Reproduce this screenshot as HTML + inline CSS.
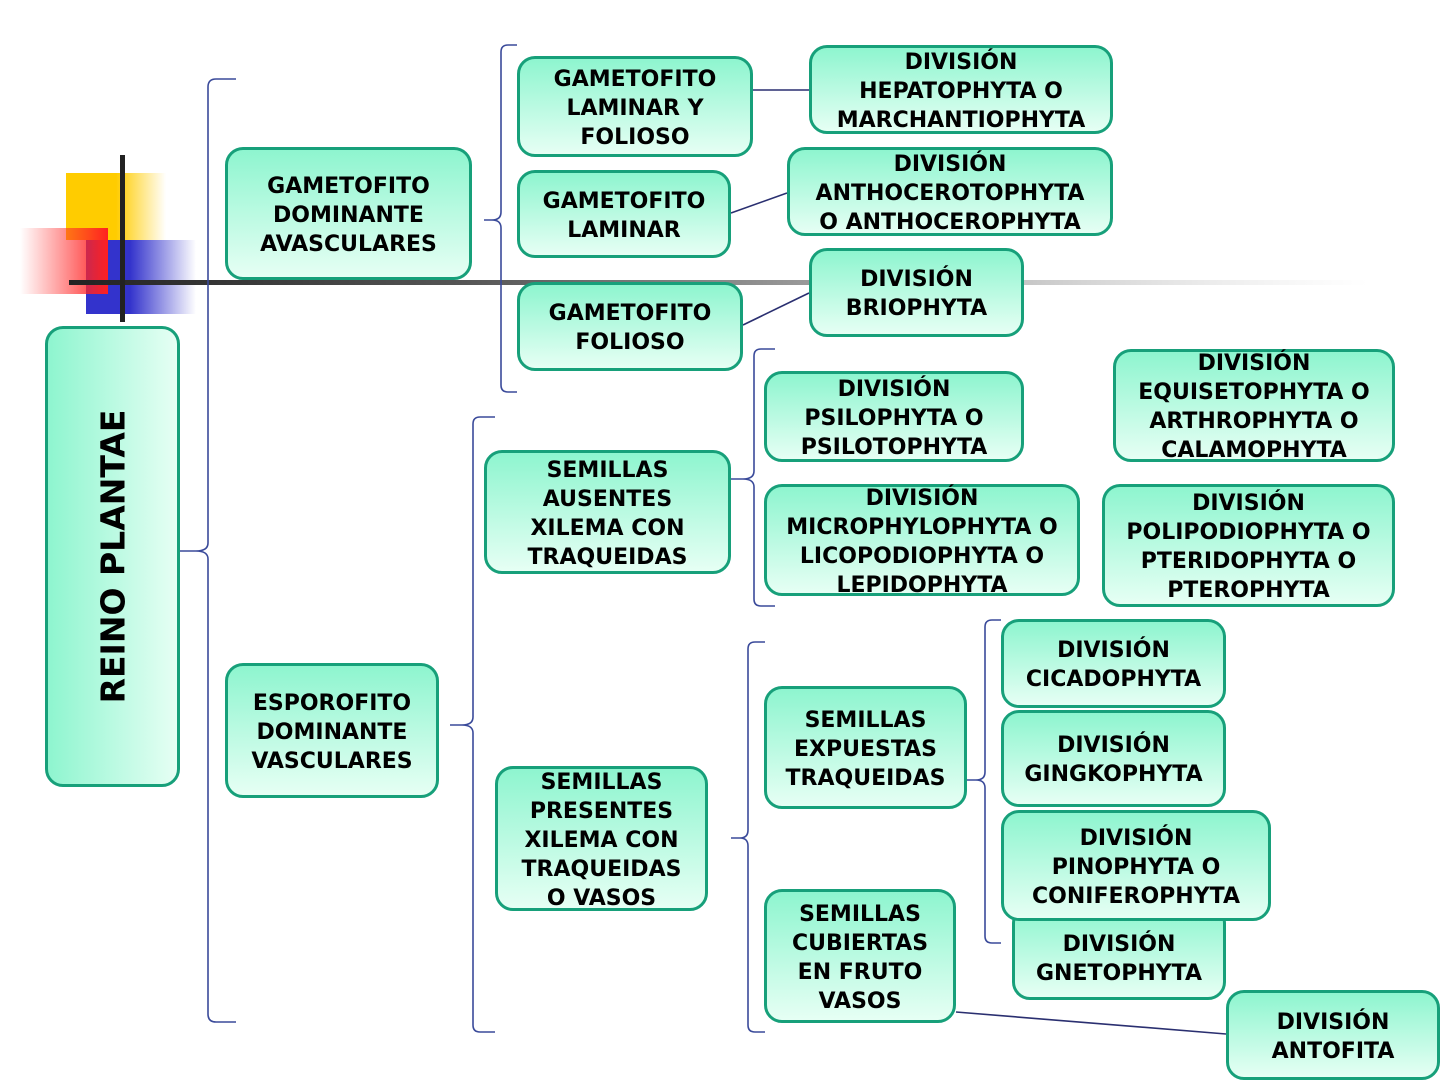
<!DOCTYPE html>
<html><head><meta charset="utf-8"><style>
html,body{margin:0;padding:0;background:#fff;}
body{width:1440px;height:1080px;position:relative;overflow:hidden;font-family:"DejaVu Sans","Liberation Sans",sans-serif;}
.b{position:absolute;box-sizing:border-box;border:3.5px solid #17a07a;border-radius:18px;background:linear-gradient(to bottom,#8ef5cf,#e6fff4);display:flex;align-items:center;justify-content:center;text-align:center;font-weight:bold;font-size:22px;line-height:29px;color:#000;white-space:nowrap;padding-top:3px;}
svg{position:absolute;left:0;top:0;}
</style></head><body>
<svg width="1440" height="1080">
<defs>
<linearGradient id="y" x1="0" x2="1"><stop offset="0.5" stop-color="#ffcc00"/><stop offset="1" stop-color="#ffcc00" stop-opacity="0"/></linearGradient>
<linearGradient id="r" x1="0" x2="1"><stop offset="0" stop-color="#ff3030" stop-opacity="0"/><stop offset="1" stop-color="#ff2020"/></linearGradient>
<linearGradient id="bl" x1="0" x2="1"><stop offset="0.4" stop-color="#3333cc"/><stop offset="1" stop-color="#3333cc" stop-opacity="0"/></linearGradient>
<linearGradient id="h" x1="0" x2="1"><stop offset="0" stop-color="#222"/><stop offset="0.3" stop-color="#555"/><stop offset="0.7" stop-color="#bbb"/><stop offset="1" stop-color="#ddd" stop-opacity="0"/></linearGradient>
</defs>
<rect x="66" y="173" width="100" height="67" fill="url(#y)"/>
<rect x="86" y="240" width="110" height="74" fill="url(#bl)"/>
<rect x="20" y="228" width="88" height="66" fill="url(#r)"/>
<rect x="69" y="280" width="1300" height="5" fill="url(#h)"/>
<rect x="120" y="155" width="5" height="167" fill="#222"/>
<g fill="none" stroke="#3a4a9a" stroke-width="1.6">
<path d="M236,79 H216 Q208,79 208,87 V543 Q208,551 196,551 H180 M196,551 Q208,551 208,559 V1014 Q208,1022 216,1022 H236"/>
<path d="M517,45 H508 Q501,45 501,52 V212 Q501,220 492,220 H484 M492,220 Q501,220 501,228 V385 Q501,392 508,392 H517"/>
<path d="M495,417 H480 Q473,417 473,424 V717 Q473,725 462,725 H450 M462,725 Q473,725 473,733 V1025 Q473,1032 480,1032 H495"/>
<path d="M775,349 H761 Q754,349 754,356 V471 Q754,479 743,479 H731 M743,479 Q754,479 754,487 V599 Q754,606 761,606 H775"/>
<path d="M765,642 H755 Q748,642 748,649 V830 Q748,838 740,838 H731 M740,838 Q748,838 748,846 V1025 Q748,1032 755,1032 H765"/>
<path d="M1001,620 H992 Q985,620 985,627 V772 Q985,780 976,780 H967 M976,780 Q985,780 985,788 V936 Q985,943 992,943 H1001"/>
</g>
<g stroke="#2a2f70" stroke-width="1.6">
<line x1="753" y1="90" x2="809" y2="90"/>
<line x1="731" y1="213" x2="787" y2="193"/>
<line x1="743" y1="325" x2="809" y2="293"/>
<line x1="956" y1="1012" x2="1226" y2="1034"/>
</g>
</svg>
<div class="b" style="left:45px;top:326px;width:135px;height:461px;padding-top:0;background:linear-gradient(to right,#8ef5cf,#e6fff4);"><span style="transform:rotate(-90deg);font-size:33px;display:inline-block;">REINO PLANTAE</span></div>
<div class="b" style="left:225px;top:147px;width:247px;height:133px;">GAMETOFITO<br>DOMINANTE<br>AVASCULARES</div>
<div class="b" style="left:225px;top:663px;width:214px;height:135px;">ESPOROFITO<br>DOMINANTE<br>VASCULARES</div>
<div class="b" style="left:517px;top:56px;width:236px;height:101px;">GAMETOFITO<br>LAMINAR Y<br>FOLIOSO</div>
<div class="b" style="left:517px;top:170px;width:214px;height:88px;">GAMETOFITO<br>LAMINAR</div>
<div class="b" style="left:517px;top:282px;width:226px;height:89px;">GAMETOFITO<br>FOLIOSO</div>
<div class="b" style="left:809px;top:45px;width:304px;height:89px;">DIVISIÓN<br>HEPATOPHYTA O<br>MARCHANTIOPHYTA</div>
<div class="b" style="left:787px;top:147px;width:326px;height:89px;">DIVISIÓN<br>ANTHOCEROTOPHYTA<br>O ANTHOCEROPHYTA</div>
<div class="b" style="left:809px;top:248px;width:215px;height:89px;">DIVISIÓN<br>BRIOPHYTA</div>
<div class="b" style="left:484px;top:450px;width:247px;height:124px;">SEMILLAS<br>AUSENTES<br>XILEMA CON<br>TRAQUEIDAS</div>
<div class="b" style="left:764px;top:371px;width:260px;height:91px;">DIVISIÓN<br>PSILOPHYTA O<br>PSILOTOPHYTA</div>
<div class="b" style="left:764px;top:484px;width:316px;height:112px;">DIVISIÓN<br>MICROPHYLOPHYTA O<br>LICOPODIOPHYTA O<br>LEPIDOPHYTA</div>
<div class="b" style="left:1113px;top:349px;width:282px;height:113px;">DIVISIÓN<br>EQUISETOPHYTA O<br>ARTHROPHYTA O<br>CALAMOPHYTA</div>
<div class="b" style="left:1102px;top:484px;width:293px;height:123px;">DIVISIÓN<br>POLIPODIOPHYTA O<br>PTERIDOPHYTA O<br>PTEROPHYTA</div>
<div class="b" style="left:495px;top:766px;width:213px;height:145px;">SEMILLAS<br>PRESENTES<br>XILEMA CON<br>TRAQUEIDAS<br>O VASOS</div>
<div class="b" style="left:764px;top:686px;width:203px;height:123px;">SEMILLAS<br>EXPUESTAS<br>TRAQUEIDAS</div>
<div class="b" style="left:764px;top:889px;width:192px;height:134px;">SEMILLAS<br>CUBIERTAS<br>EN FRUTO<br>VASOS</div>
<div class="b" style="left:1001px;top:619px;width:225px;height:89px;">DIVISIÓN<br>CICADOPHYTA</div>
<div class="b" style="left:1001px;top:710px;width:225px;height:97px;">DIVISIÓN<br>GINGKOPHYTA</div>
<div class="b" style="left:1012px;top:905px;width:214px;height:95px;padding-top:12px;">DIVISIÓN<br>GNETOPHYTA</div>
<div class="b" style="left:1001px;top:810px;width:270px;height:111px;">DIVISIÓN<br>PINOPHYTA O<br>CONIFEROPHYTA</div>
<div class="b" style="left:1226px;top:990px;width:214px;height:90px;">DIVISIÓN<br>ANTOFITA</div>
</body></html>
